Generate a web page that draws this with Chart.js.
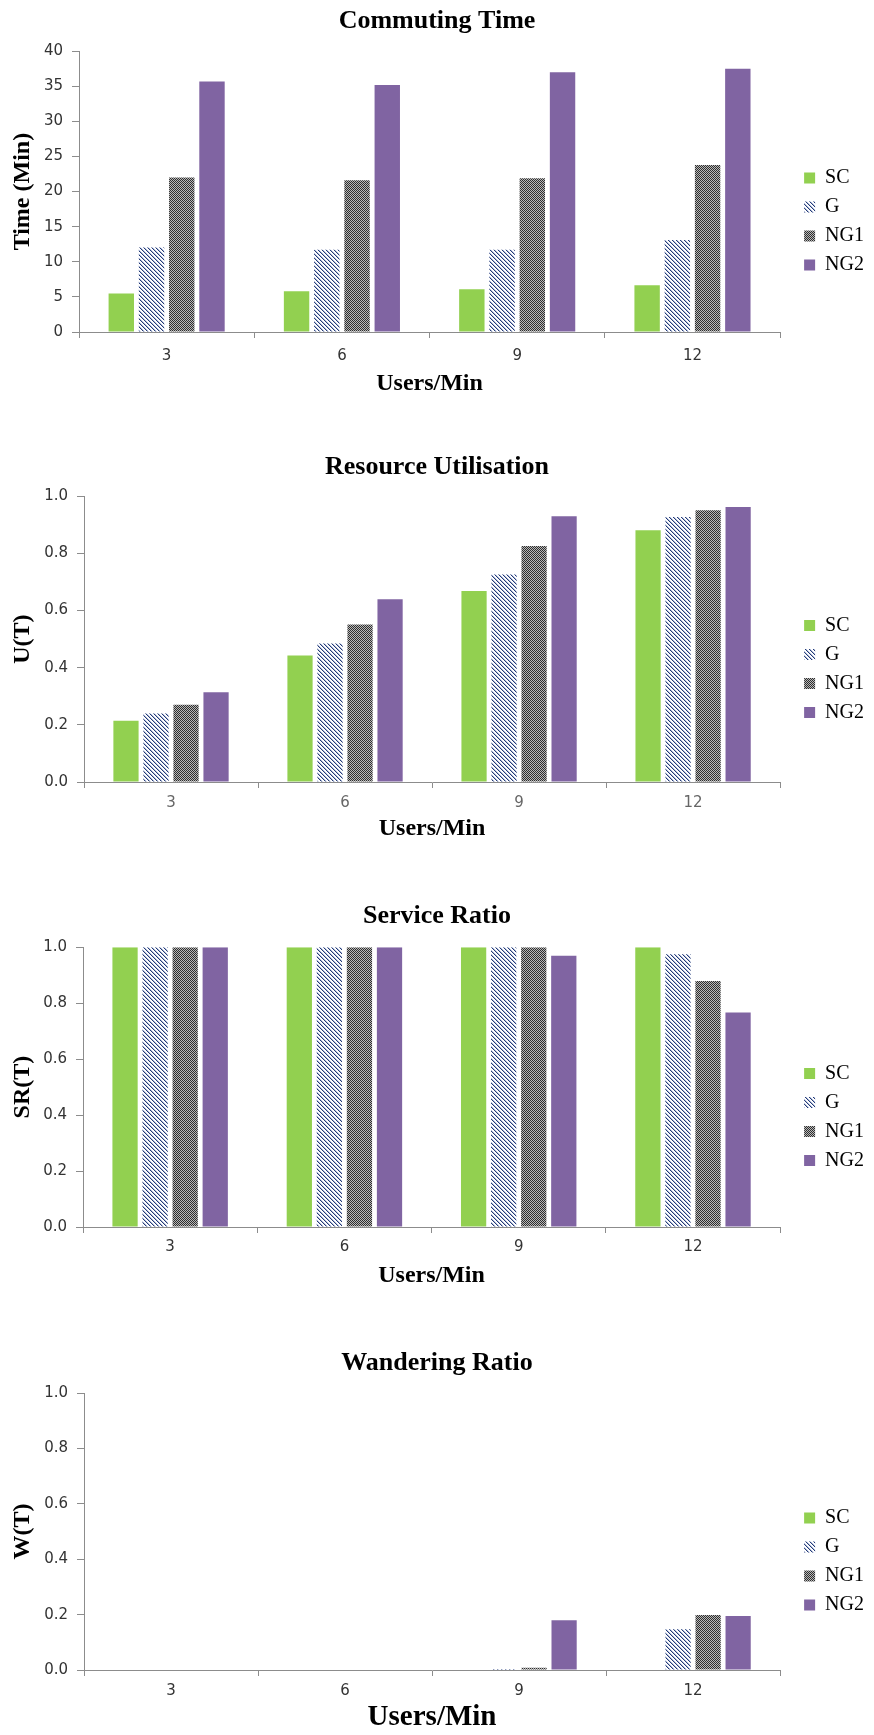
<!DOCTYPE html>
<html lang="en">

<head>
    <meta charset="UTF-8">
    <title>Commuting Time / Resource Utilisation / Service Ratio / Wandering Ratio</title>
    <script src="https://cdn.jsdelivr.net/npm/chart.js@4.4.1/dist/chart.umd.min.js"></script>
    <style>
        body { margin: 0; background: #fff; }
        .panel { position: absolute; left: 0; width: 874px; }
    </style>
</head>

<body>
    <div class="panel" style="top:0;height:420px"><canvas id="commuteChart"></canvas></div>
    <div class="panel" style="top:420px;height:440px"><canvas id="utilChart"></canvas></div>
    <div class="panel" style="top:860px;height:440px"><canvas id="serviceChart"></canvas></div>
    <div class="panel" style="top:1300px;height:435px"><canvas id="wanderChart"></canvas></div>

    <script>
        const categories = ['3', '6', '9', '12'];
        const seriesNames = ['SC', 'G', 'NG1', 'NG2'];

        // Commuting time (min)
        const commuteSC = [5.5, 5.8, 6.1, 6.65];
        const commuteG = [12.05, 11.7, 11.7, 13.1];
        const commuteNG1 = [22.0, 21.6, 21.9, 23.8];
        const commuteNG2 = [35.7, 35.2, 37.0, 37.5];

        // Resource utilisation U(T)
        const utilSC = [0.214, 0.443, 0.668, 0.881];
        const utilG = [0.240, 0.485, 0.726, 0.927];
        const utilNG1 = [0.270, 0.551, 0.826, 0.951];
        const utilNG2 = [0.314, 0.639, 0.930, 0.962];

        // Service ratio SR(T)
        const serviceSC = [1, 1, 1, 1];
        const serviceG = [1, 1, 1, 0.975];
        const serviceNG1 = [1, 1, 1, 0.879];
        const serviceNG2 = [1, 1, 0.969, 0.767];

        // Wandering ratio W(T)
        const wanderSC = [0, 0, 0, 0];
        const wanderG = [0, 0, 0.004, 0.147];
        const wanderNG1 = [0, 0, 0.008, 0.199];
        const wanderNG2 = [0, 0, 0.18, 0.195];

        const commuteTicks = { min: 0, max: 40, step: 5 };
        const ratioTicks = { min: 0, max: 1, step: 0.2 };


        const SERIF = "'Liberation Serif', 'Times New Roman', serif";
        const AXIS_GREY = '#8c8c8c';
        Chart.defaults.font.family = "'DejaVu Sans', sans-serif";

        const makePattern = (size, paint) => {
            const c = document.createElement('canvas');
            c.width = size;
            c.height = size;
            const g = c.getContext('2d');
            g.fillStyle = '#fff';
            g.fillRect(0, 0, size, size);
            paint(g);
            return g.createPattern(c, 'repeat');
        }

        // G: navy downward diagonal hatch
        const hatchFill = makePattern(4, g => {
            for (let i = 0; i < 4; i++) {
                g.fillStyle = '#263b74';
                g.fillRect(i, i, 1, 1);
                g.fillStyle = '#aebbdb';
                g.fillRect((i + 1) % 4, i, 1, 1);
            }
        });

        // NG1: fine dark checker
        const checkFill = makePattern(2, g => {
            g.fillStyle = '#b8b8b8';
            g.fillRect(0, 0, 2, 2);
            g.fillStyle = '#2e2e2e';
            g.fillRect(0, 0, 1, 1);
            g.fillRect(1, 1, 1, 1);
        });

        const fills = ['#92d050', hatchFill, checkFill, '#8064a2'];


        const makeChart = (id, title, yTitle, values, ticks, panel) => {
            new Chart(document.getElementById(id), {
                type: 'bar',
                data: {
                    labels: categories,
                    datasets: seriesNames.map((name, i) => ({
                        label: name,
                        data: values[i],
                        backgroundColor: fills[i],
                        borderWidth: 0,
                        categoryPercentage: 0.69,
                        barPercentage: 0.84,
                    })),
                },
                options: {
                    responsive: true,
                    maintainAspectRatio: false,
                    animation: false,
                    layout: { padding: 0 },
                    plugins: {
                        title: {
                            display: true,
                            text: title,
                            color: '#000',
                            font: { family: SERIF, size: 26, weight: 'bold', lineHeight: 1.2 },
                            padding: { top: panel.titleTop, bottom: panel.titleBottom },
                        },
                        legend: {
                            position: 'right',
                            fullSize: false,
                            title: { display: true, text: ' ', font: { size: 10, lineHeight: 1.2 }, padding: 24 },
                            labels: {
                                boxWidth: 11,
                                boxHeight: 11,
                                padding: 9,
                                color: '#000',
                                font: { family: SERIF, size: 20 },
                            },
                        },
                        tooltip: { enabled: false },
                    },
                    scales: {
                        x: {
                            grid: { offset: true, drawOnChartArea: false, tickLength: 6, color: AXIS_GREY },
                            border: { color: AXIS_GREY },
                            ticks: { color: panel.xTickColor, padding: panel.xTickPad, font: { size: 15 } },
                            title: {
                                display: true,
                                text: 'Users/Min',
                                color: '#000',
                                font: { family: SERIF, size: panel.xTitleSize, weight: 'bold', lineHeight: 1.2 },
                                padding: { top: 0, bottom: panel.xTitleBottom },
                            },
                            afterFit: scale => { scale.height = panel.xAxisHeight; },
                        },
                        y: {
                            min: ticks.min,
                            max: ticks.max,
                            grid: { drawOnChartArea: false, tickLength: 7, color: AXIS_GREY },
                            border: { color: AXIS_GREY },
                            ticks: {
                                stepSize: ticks.step,
                                padding: 9,
                                color: '#333',
                                font: { size: 15 },
                                callback: v => ticks.max > 1 ? String(v) : v.toFixed(1),
                            },
                            title: {
                                display: true,
                                text: yTitle,
                                color: '#000',
                                font: { family: SERIF, size: 24, weight: 'bold', lineHeight: 1.2 },
                                padding: { top: 8, bottom: 0 },
                            },
                            afterFit: scale => { scale.width = panel.yAxisWidth; },
                        },
                        // empty strip between the plot and the legend
                        gap: {
                            position: 'right',
                            grid: { display: false },
                            border: { display: false },
                            ticks: { display: false },
                            afterFit: scale => { scale.width = 15; },
                        },
                    },
                },
            });
        }


        makeChart('commuteChart', 'Commuting Time', 'Time (Min)',
            [commuteSC, commuteG, commuteNG1, commuteNG2], commuteTicks,
            { titleTop: 6, titleBottom: 14, yAxisWidth: 79, xAxisHeight: 88, xTickPad: 9, xTickColor: '#333', xTitleSize: 24, xTitleBottom: 22 });

        makeChart('utilChart', 'Resource Utilisation', 'U(T)',
            [utilSC, utilG, utilNG1, utilNG2], ratioTicks,
            { titleTop: 32, titleBottom: 13, yAxisWidth: 84, xAxisHeight: 78, xTickPad: 6, xTickColor: '#666', xTitleSize: 24, xTitleBottom: 17 });

        makeChart('serviceChart', 'Service Ratio', 'SR(T)',
            [serviceSC, serviceG, serviceNG1, serviceNG2], ratioTicks,
            { titleTop: 41, titleBottom: 15, yAxisWidth: 83, xAxisHeight: 73, xTickPad: 5, xTickColor: '#333', xTitleSize: 24, xTitleBottom: 10 });

        makeChart('wanderChart', 'Wandering Ratio', 'W(T)',
            [wanderSC, wanderG, wanderNG1, wanderNG2], ratioTicks,
            { titleTop: 48, titleBottom: 14, yAxisWidth: 84, xAxisHeight: 65, xTickPad: 6, xTickColor: '#333', xTitleSize: 29, xTitleBottom: 0 });
    </script>
</body>

</html>
